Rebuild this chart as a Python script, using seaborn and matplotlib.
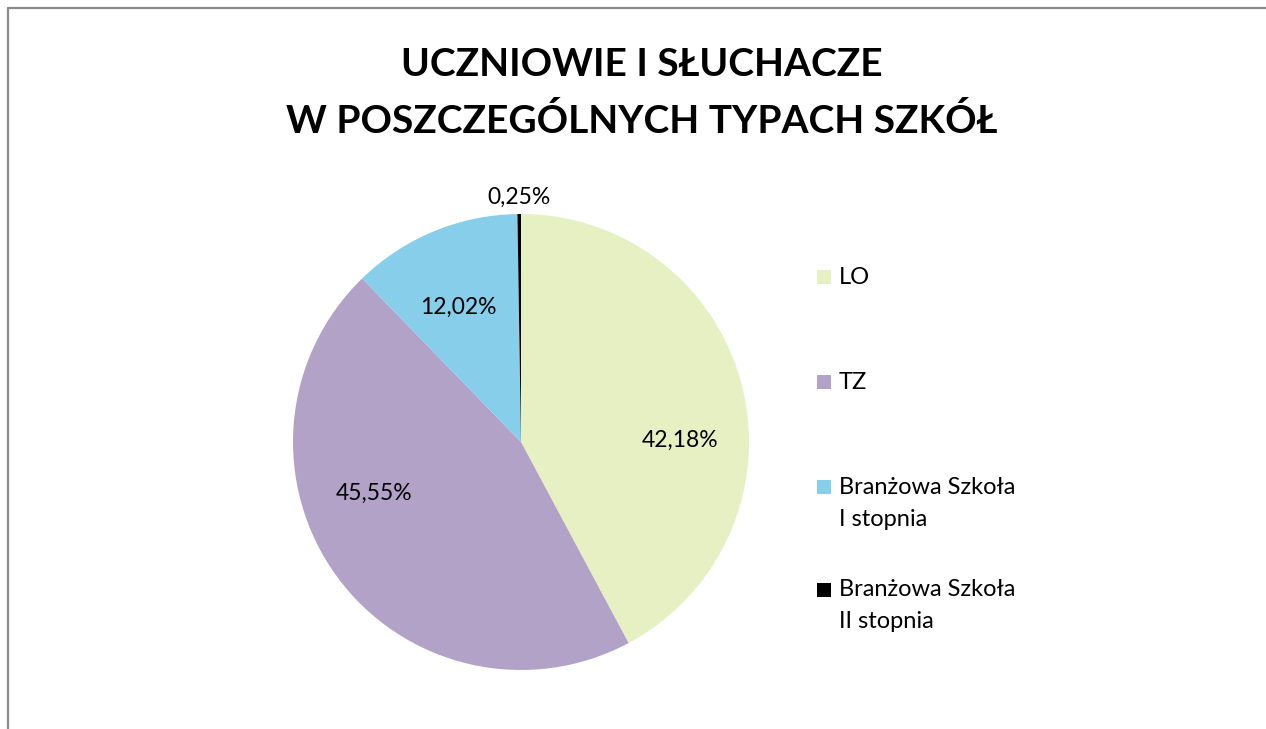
import matplotlib
matplotlib.use("Agg")
import matplotlib.pyplot as plt
from matplotlib.lines import Line2D
from matplotlib.patches import Rectangle
import seaborn as sns

categories = ["LO", "TZ", "Branżowa Szkoła\nI stopnia", "Branżowa Szkoła\nII stopnia"]
values = [42.18, 45.55, 12.02, 0.25]
labels = ["42,18%", "45,55%", "12,02%", "0,25%"]
colors = ["#E6F0C3", "#B3A2C7", "#87CEEB", "#000000"]
title = "UCZNIOWIE I SŁUCHACZE\nW POSZCZEGÓLNYCH TYPACH SZKÓŁ"

sns.set_theme(style="white")
plt.rcParams["font.family"] = ["Lato", "DejaVu Sans"]

W, H = 1266, 729
fig = plt.figure(figsize=(W / 100, H / 100), dpi=100)
ax = fig.add_axes([0, 0, 1, 1])

# pie (y axis inverted -> counterclock=True appears clockwise)
cx, cy, r = 521, 442, 228
wedges, _ = ax.pie(values, colors=sns.color_palette(colors), startangle=-90,
                   counterclock=True, center=(cx, cy), radius=r,
                   wedgeprops=dict(linewidth=0), frame=True)
ax.set_xlim(0, W)
ax.set_ylim(H, 0)
ax.set_aspect("equal")
ax.axis("off")

# data labels (positions as Excel placed them)
label_pos = [(680, 440), (374, 493), (458, 307), (519, 197)]
for (lx, ly), t in zip(label_pos, labels):
    ax.text(lx, ly, t, ha="center", va="center", fontsize=16.5, color="#000000")

# title
ax.text(642, 93, title, ha="center", va="center", fontsize=28,
        fontweight="bold", linespacing=1.72, color="#000000")

# legend
leg_y = [277, 382, 487, 590]
line_gap = 32
for yy, lab, col in zip(leg_y, categories, colors):
    ax.add_patch(Rectangle((817, yy - 7), 14, 14, facecolor=col, edgecolor="none"))
    for i, part in enumerate(lab.split("\n")):
        ax.text(839, yy + i * line_gap, part, ha="left", va="center",
                fontsize=17, color="#000000")

# frame lines
fig.add_artist(Line2D([8 / W, 8 / W], [0, 1 - 8 / H], transform=fig.transFigure,
                      color="#8A8A8A", linewidth=1.6))
fig.add_artist(Line2D([8 / W, 1], [1 - 8 / H, 1 - 8 / H], transform=fig.transFigure,
                      color="#8A8A8A", linewidth=1.6))

fig.savefig("out.png", dpi=100, facecolor="white")
